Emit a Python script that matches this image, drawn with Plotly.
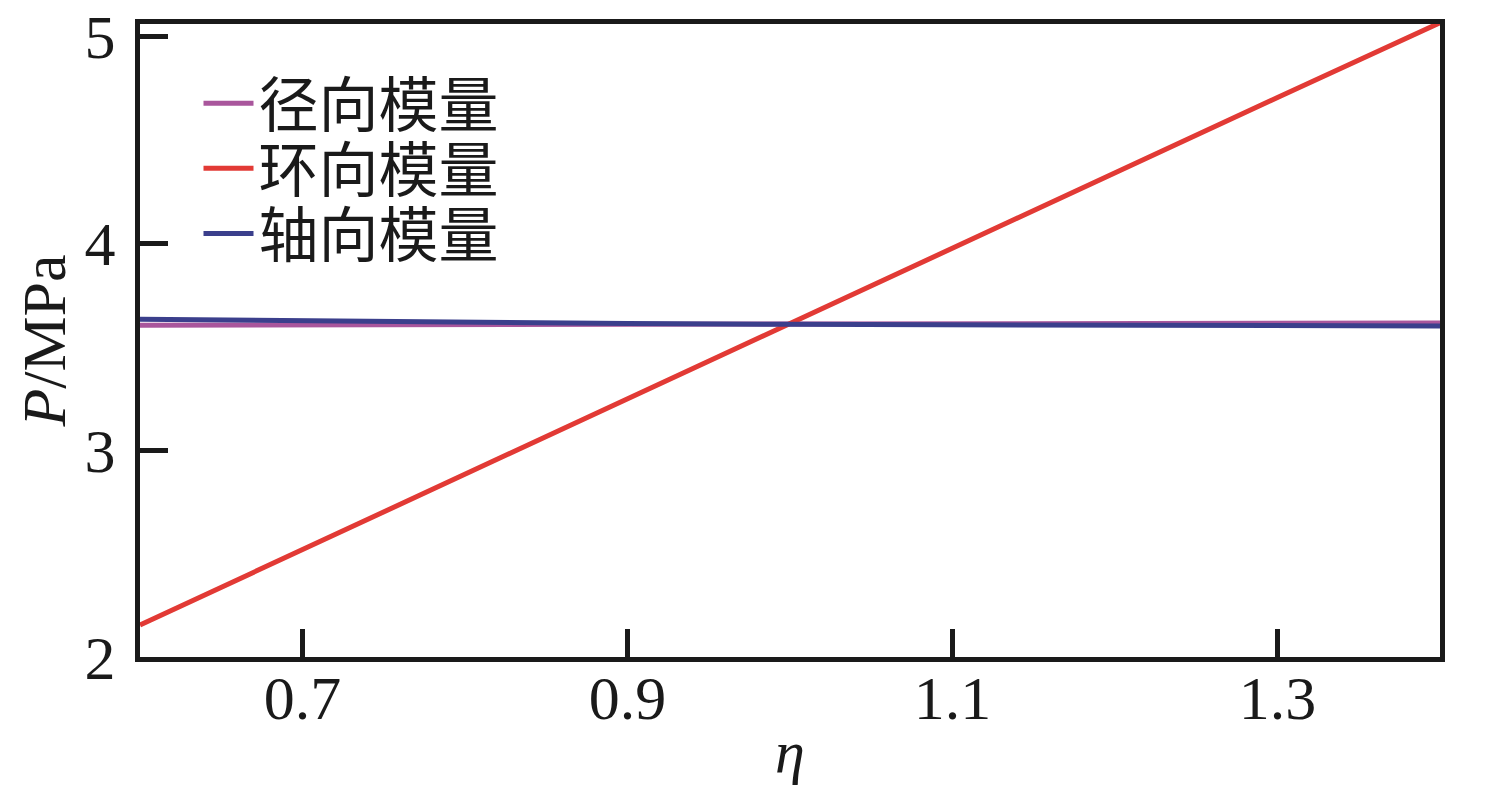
import plotly.graph_objects as go

# eta values and pressure (MPa) for the three modulus cases
eta = [0.6, 0.7, 0.8, 0.9, 1.0, 1.1, 1.2, 1.3, 1.4]
p_radial = [3.604, 3.605, 3.606, 3.607, 3.608, 3.610, 3.611, 3.613, 3.615]
p_hoop = [2.155, 2.52, 2.885, 3.25, 3.61, 3.975, 4.34, 4.705, 5.066]
p_axial = [3.633, 3.624, 3.617, 3.612, 3.608, 3.605, 3.603, 3.601, 3.600]

names = ['径向模量', '环向模量', '轴向模量']
colors = ['#a9569c', '#e23a35', '#3b3f8c']

x_ticks = [0.7, 0.9, 1.1, 1.3]
y_ticks = [2, 3, 4, 5]

fig = go.Figure()

# one legend box per series so the rows can sit as tightly as in the original
legend_ids = ['legend', 'legend2', 'legend3']
legend_y = [0.875, 0.772, 0.669]

for name, ys, c, lg in zip(names, [p_radial, p_hoop, p_axial], colors, legend_ids):
    fig.add_trace(go.Scatter(
        x=eta, y=ys, mode='lines', name=name, legend=lg,
        line=dict(color=c, width=5)
    ))

axis_style = dict(
    showline=True, linecolor='#1a1a1a', linewidth=5, mirror=True,
    ticks='inside', ticklen=28, tickwidth=5, tickcolor='#1a1a1a',
    showgrid=False, zeroline=False, automargin=False,
    ticklabeloverflow='allow',
    tickfont=dict(family='Liberation Serif', size=62, color='#1a1a1a'),
)

fig.update_xaxes(
    range=[0.6, 1.4], tickvals=x_ticks, ticktext=[str(v) for v in x_ticks],
    title=dict(text='<i>η</i>', font=dict(family='Liberation Serif', size=60, color='#1a1a1a'), standoff=0),
    ticklabelstandoff=-17,
    **axis_style
)
fig.update_yaxes(
    range=[2, 5.06], tickvals=y_ticks,
    title=dict(text='<i>P</i>/MPa', font=dict(family='Liberation Serif', size=62, color='#1a1a1a'), standoff=0),
    ticklabelstandoff=7,
    **axis_style
)

legend_style = dict(
    x=0.045, xanchor='left', yanchor='middle',
    bgcolor='rgba(0,0,0,0)', itemwidth=50,
    font=dict(family='Noto Sans CJK SC', size=60, color='#1a1a1a'),
)

fig.update_layout(
    width=1509, height=793,
    margin=dict(l=132, r=77, t=16, b=144, autoexpand=False),
    paper_bgcolor='white', plot_bgcolor='white',
    showlegend=True,
    legend=dict(y=legend_y[0], **legend_style),
    legend2=dict(y=legend_y[1], **legend_style),
    legend3=dict(y=legend_y[2], **legend_style),
)

fig.write_html("out.html")
